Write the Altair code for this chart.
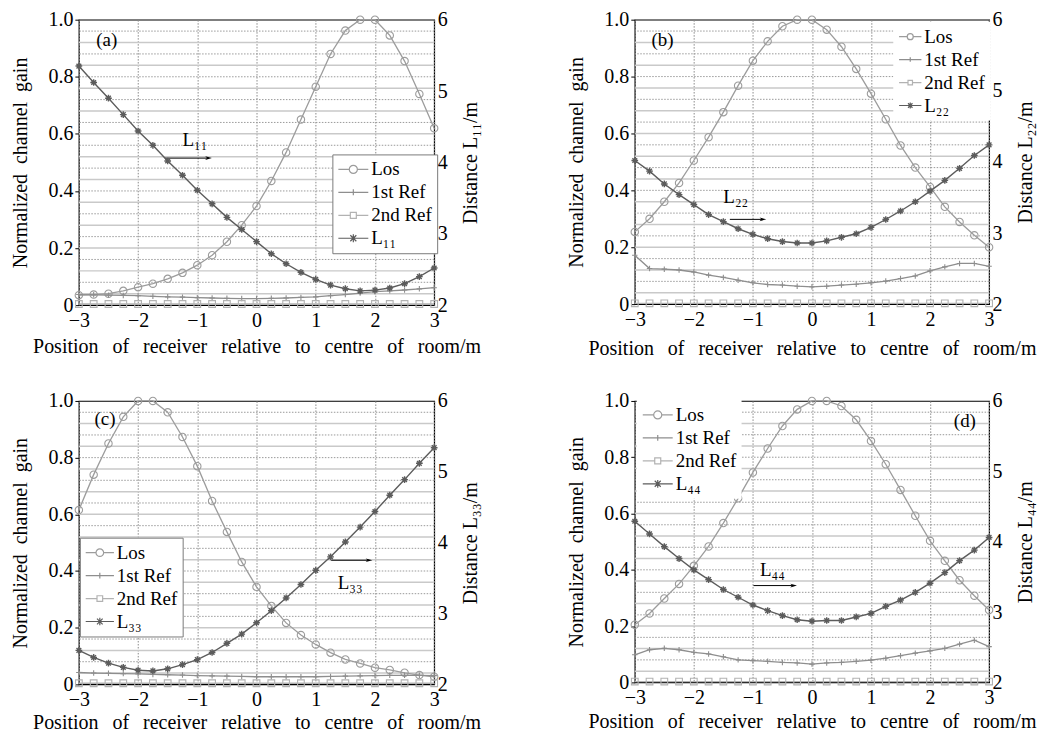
import altair as alt
import pandas as pd

FONT = "Liberation Serif"

# ---------------- data ----------------
X = [-3.0, -2.75, -2.5, -2.25, -2.0, -1.75, -1.5, -1.25, -1.0, -0.75, -0.5, -0.25, 0.0,
     0.25, 0.5, 0.75, 1.0, 1.25, 1.5, 1.75, 2.0, 2.25, 2.5, 2.75, 3.0]
XTICKS = [-3, -2, -1, 0, 1, 2, 3]
YTICKS = [0, 0.2, 0.4, 0.6, 0.8, 1.0]
DTICKS = [2, 3, 4, 5, 6]
GRID_SOLID = [0.04, 0.12, 0.20, 0.28, 0.36, 0.44, 0.52, 0.60, 0.68, 0.76, 0.84, 0.92]
GRID_DOT = [0.08, 0.16, 0.24, 0.32, 0.40, 0.48, 0.56, 0.64, 0.72, 0.80, 0.88, 0.96]

GAP = "\u2002\u2009"
XTITLE = GAP.join(["Position", "of", "receiver", "relative", "to", "centre", "of", "room/m"])
YTITLE = "Normalized\u2002channel\u2002gain"
SERIES = ["Los", "1st Ref", "2nd Ref"]

# panel (a)
LOS_A = [0.035, 0.037, 0.040, 0.050, 0.063, 0.075, 0.092, 0.113, 0.140, 0.175, 0.222, 0.280, 0.347,
         0.435, 0.535, 0.650, 0.765, 0.880, 0.962, 1.000, 1.000, 0.945, 0.855, 0.740, 0.620]
REF1_A = [0.037, 0.036, 0.035, 0.034, 0.033, 0.031, 0.029, 0.028, 0.026, 0.025, 0.024, 0.023, 0.023,
          0.024, 0.025, 0.027, 0.029, 0.033, 0.037, 0.042, 0.047, 0.050, 0.053, 0.057, 0.061]
REF2_A = [0.004, 0.004, 0.004, 0.004, 0.004, 0.004, 0.004, 0.004, 0.004, 0.004, 0.004, 0.004, 0.004,
          0.004, 0.004, 0.004, 0.004, 0.004, 0.004, 0.004, 0.004, 0.004, 0.004, 0.004, 0.004]
DIST_A = [5.35, 5.12, 4.90, 4.67, 4.44, 4.24, 4.02, 3.82, 3.61, 3.42, 3.23, 3.06, 2.89,
          2.72, 2.58, 2.46, 2.36, 2.28, 2.23, 2.20, 2.21, 2.24, 2.30, 2.40, 2.52]

# panel (b)
LOS_B = [0.254, 0.300, 0.360, 0.426, 0.505, 0.587, 0.675, 0.768, 0.856, 0.924, 0.977, 1.000, 1.000,
         0.965, 0.905, 0.827, 0.740, 0.650, 0.558, 0.480, 0.412, 0.342, 0.289, 0.242, 0.200]
REF1_B = [0.172, 0.125, 0.123, 0.120, 0.113, 0.102, 0.094, 0.084, 0.075, 0.069, 0.067, 0.063, 0.061,
          0.063, 0.067, 0.070, 0.075, 0.081, 0.090, 0.099, 0.117, 0.131, 0.143, 0.143, 0.133]
REF2_B = [0.003, 0.003, 0.003, 0.003, 0.003, 0.003, 0.003, 0.003, 0.003, 0.003, 0.003, 0.003, 0.003,
          0.003, 0.003, 0.003, 0.003, 0.003, 0.003, 0.003, 0.003, 0.003, 0.003, 0.003, 0.003]
DIST_B = [4.02, 3.87, 3.69, 3.54, 3.40, 3.26, 3.16, 3.06, 2.98, 2.92, 2.88, 2.86, 2.86,
          2.89, 2.94, 2.99, 3.08, 3.19, 3.31, 3.44, 3.59, 3.74, 3.91, 4.09, 4.24]

# panel (c)
LOS_C = [0.615, 0.740, 0.850, 0.944, 1.000, 1.000, 0.960, 0.873, 0.770, 0.647, 0.538, 0.432, 0.344,
         0.277, 0.217, 0.174, 0.141, 0.112, 0.088, 0.074, 0.059, 0.051, 0.041, 0.033, 0.027]
REF1_C = [0.042, 0.040, 0.039, 0.038, 0.037, 0.035, 0.034, 0.033, 0.031, 0.030, 0.029, 0.028, 0.027,
          0.027, 0.027, 0.027, 0.027, 0.028, 0.029, 0.030, 0.031, 0.032, 0.032, 0.032, 0.031]
REF2_C = [0.004, 0.004, 0.004, 0.004, 0.004, 0.004, 0.004, 0.004, 0.004, 0.004, 0.004, 0.004, 0.004,
          0.004, 0.004, 0.004, 0.004, 0.004, 0.004, 0.004, 0.004, 0.004, 0.004, 0.004, 0.004]
DIST_C = [2.48, 2.38, 2.30, 2.24, 2.20, 2.19, 2.22, 2.28, 2.35, 2.45, 2.58, 2.71, 2.87,
          3.04, 3.22, 3.41, 3.61, 3.80, 4.01, 4.22, 4.44, 4.67, 4.89, 5.12, 5.34]

# panel (d)
LOS_D = [0.205, 0.245, 0.298, 0.350, 0.414, 0.483, 0.566, 0.654, 0.746, 0.831, 0.911, 0.970, 1.000,
         1.000, 0.982, 0.933, 0.858, 0.775, 0.684, 0.592, 0.503, 0.432, 0.363, 0.308, 0.257]
REF1_D = [0.098, 0.116, 0.121, 0.116, 0.107, 0.101, 0.091, 0.080, 0.077, 0.075, 0.071, 0.069, 0.065,
          0.069, 0.071, 0.075, 0.079, 0.086, 0.095, 0.104, 0.112, 0.121, 0.136, 0.150, 0.127]
REF2_D = [0.003, 0.003, 0.003, 0.003, 0.003, 0.003, 0.003, 0.003, 0.003, 0.003, 0.003, 0.003, 0.003,
          0.003, 0.003, 0.003, 0.003, 0.003, 0.003, 0.003, 0.003, 0.003, 0.003, 0.003, 0.003]
DIST_D = [4.29, 4.11, 3.93, 3.76, 3.60, 3.46, 3.32, 3.21, 3.10, 3.02, 2.95, 2.89, 2.87,
          2.88, 2.88, 2.93, 2.98, 3.08, 3.17, 3.28, 3.41, 3.56, 3.73, 3.88, 4.06]

L_NAMES = ["L\u2081\u2081", "L\u2082\u2082", "L\u2083\u2083", "L\u2084\u2084"]
TAGS = ["(a)", "(b)", "(c)", "(d)"]
TAG_X = [-2.53, -2.53, -2.56, 2.59]
TAG_Y = [0.93, 0.93, 0.935, 0.93]
ANN_X = [-1.04, -1.29, 1.58, -0.67]
ANN_Y = [0.58, 0.375, 0.356, 0.40]
ARR_X1 = [-1.55, -1.39, 1.26, -0.99]
ARR_X2 = [-0.81, -0.83, 1.90, -0.31]
ARR_Y = [0.515, 0.298, 0.438, 0.344]

# ---------------- styles ----------------
C_LOS, C_R1, C_R2, C_L = "#9c9c9c", "#8e8e8e", "#b2b2b2", "#5c5c5c"
PLUS = "M-1,0H1M0,-1V1"
STAR = "M-1,0H1M0,-1V1M-0.7,-0.7L0.7,0.7M-0.7,0.7L0.7,-0.7"
ARROWHEAD = "M-1,-0.55L1,0L-1,0.55L-0.45,0Z"
LEG_PATHS = [
    "M-1,0H-0.27M0.27,0H1M0.27,0A0.27,0.27,0,1,1,-0.27,0A0.27,0.27,0,1,1,0.27,0",
    "M-1,0H1M0,-0.2V0.2",
    "M-1,0H-0.2M0.2,0H1M-0.2,-0.2H0.2V0.2H-0.2Z",
    "M-1,0H1M-0.2,-0.2L0.2,0.2M-0.2,0.2L0.2,-0.2M0,-0.26V0.26",
]
LEG_COLORS = [C_LOS, C_R1, C_R2, C_L]

AXIS_TXT = dict(labelFont=FONT, titleFont=FONT, labelFontSize=20, titleFontSize=20,
                labelColor="black", titleColor="black", titleFontWeight="normal")


def make_panel(i, los, ref1, ref2, dist, width, height, xtp, legx, legy, boxed, symsize):
    lname = L_NAMES[i]
    df = pd.DataFrame({"x": X, "Los": los, "1st Ref": ref1, "2nd Ref": ref2, "dist": dist})

    x_enc = alt.X("x:Q", scale=alt.Scale(domain=[-3, 3], nice=False, zero=False),
                  axis=alt.Axis(values=XTICKS, format="d", title=XTITLE, grid=True,
                                gridColor="#8a8a8a", gridDash=[1.5, 1.5], gridWidth=1,
                                domain=False, ticks=False, labelPadding=5, titlePadding=xtp,
                                labelFlush=False, **AXIS_TXT))
    y_enc = alt.Y("gain:Q", scale=alt.Scale(domain=[0, 1], nice=False, zero=False),
                  axis=alt.Axis(values=YTICKS, title=YTITLE, grid=False, domain=False,
                                labelExpr="datum.value == 0 ? '0' : format(datum.value, '.1f')",
                                tickSize=4, tickColor="black", labelPadding=2, titlePadding=17,
                                **AXIS_TXT))
    yr_enc = alt.Y("dist:Q", scale=alt.Scale(domain=[2, 6], nice=False, zero=False),
                   axis=alt.Axis(orient="right", values=DTICKS, format="d",
                                 title="Distance " + lname + "/m", titleAngle=270,
                                 titleBaseline="top", grid=False, domain=False, ticks=False,
                                 labelPadding=3, titlePadding=13, **AXIS_TXT))

    layers = [
        alt.Chart(pd.DataFrame({"gain": GRID_SOLID})).mark_rule(color="#c9c9c9", strokeWidth=1.5)
        .encode(y=y_enc),
        alt.Chart(pd.DataFrame({"gain": GRID_DOT})).mark_rule(color="#9a9a9a", strokeWidth=1,
                                                              strokeDash=[1.5, 1.5])
        .encode(y=y_enc),
    ]
    styles = {
        "Los": dict(color=C_LOS, shape="circle", size=55, filled=False),
        "1st Ref": dict(color=C_R1, shape=PLUS, size=30, filled=False),
        "2nd Ref": dict(color=C_R2, shape="square", size=45, filled=False),
    }
    for s in SERIES:
        sd = df[["x", s]].rename(columns={s: "gain"})
        st = styles[s]
        layers.append(alt.Chart(sd).mark_line(color=st["color"], strokeWidth=1.3)
                      .encode(x=x_enc, y=y_enc))
        layers.append(alt.Chart(sd).mark_point(color=st["color"], shape=st["shape"],
                                               size=st["size"], filled=st["filled"],
                                               opacity=1, strokeWidth=1.1)
                      .encode(x=x_enc, y=y_enc))

    tag_df = pd.DataFrame({"x": [TAG_X[i]], "gain": [TAG_Y[i]], "t": [TAGS[i]]})
    layers.append(alt.Chart(tag_df).mark_text(fontSize=19, font=FONT, color="black")
                  .encode(x=x_enc, y=y_enc, text="t:N"))
    ann_df = pd.DataFrame({"x": [ANN_X[i]], "gain": [ANN_Y[i]], "t": [lname]})
    layers.append(alt.Chart(ann_df).mark_text(fontSize=19, font=FONT, color="black")
                  .encode(x=x_enc, y=y_enc, text="t:N"))
    arr_df = pd.DataFrame({"x": [ARR_X1[i]], "x2": [ARR_X2[i]], "gain": [ARR_Y[i]]})
    layers.append(alt.Chart(arr_df).mark_rule(color="black", strokeWidth=1)
                  .encode(x=x_enc, x2="x2:Q", y=y_enc))
    head_df = pd.DataFrame({"x": [ARR_X2[i]], "gain": [ARR_Y[i]]})
    layers.append(alt.Chart(head_df).mark_point(shape=ARROWHEAD, filled=True, color="black",
                                                size=45, opacity=1)
                  .encode(x=x_enc, y=y_enc))

    leg_names = SERIES + [lname]
    leg_kwargs = dict(title=None, orient="none", legendX=legx, legendY=legy,
                      fillColor="white", padding=5, symbolSize=symsize, clipHeight=20,
                      rowPadding=3, labelFont=FONT, labelFontSize=19, labelColor="black",
                      labelOffset=2, symbolStrokeWidth=1.2, labelLimit=200)
    if boxed:
        leg_kwargs["strokeColor"] = "#7a7a7a"
    leg_df = pd.DataFrame({"series": leg_names, "x": [0, 0, 0, 0], "gain": [0, 0, 0, 0]})
    layers.append(
        alt.Chart(leg_df).transform_filter("false")
        .mark_point(filled=False, opacity=1, strokeWidth=1.2)
        .encode(x=x_enc, y=y_enc,
                shape=alt.Shape("series:N", sort=leg_names,
                                scale=alt.Scale(domain=leg_names, range=LEG_PATHS),
                                legend=alt.Legend(**leg_kwargs)),
                color=alt.Color("series:N", sort=leg_names,
                                scale=alt.Scale(domain=leg_names, range=LEG_COLORS),
                                legend=alt.Legend(**leg_kwargs)))
    )
    left = alt.layer(*layers)

    rd = df[["x", "dist"]]
    right = alt.layer(
        alt.Chart(rd).mark_line(color=C_L, strokeWidth=1.4).encode(x=x_enc, y=yr_enc),
        alt.Chart(rd).mark_point(shape=STAR, size=45, filled=False, color=C_L, opacity=1,
                                 strokeWidth=1.4).encode(x=x_enc, y=yr_enc),
    )
    return alt.layer(left, right).resolve_scale(y="independent").properties(
        width=width, height=height)


pa = make_panel(0, LOS_A, REF1_A, REF2_A, DIST_A, 356, 286, 6, 254, 135, True, 900)
pb = make_panel(1, LOS_B, REF1_B, REF2_B, DIST_B, 355, 285, 9, 259, 2, False, 500)
pc = make_panel(2, LOS_C, REF1_C, REF2_C, DIST_C, 356, 284, 3, 1, 137, True, 800)
pd_ = make_panel(3, LOS_D, REF1_D, REF2_D, DIST_D, 355, 282, 4, 2, -1, False, 900)

row1 = alt.hconcat(pa, pb, spacing=84).resolve_scale(color="independent", shape="independent")
row2 = alt.hconcat(pc, pd_, spacing=84).resolve_scale(color="independent", shape="independent")

chart = (
    alt.vconcat(row1, row2, spacing=31)
    .resolve_scale(color="independent", shape="independent")
    .properties(padding={"left": 2, "top": 0, "right": 0, "bottom": 0})
    .configure(font=FONT)
    .configure_view(stroke="black", strokeWidth=1.2)
    .configure_legend(labelFont=FONT)
    .configure_axis(**AXIS_TXT)
)

chart.save("out.html", embed_options={"renderer": "svg", "actions": False})
